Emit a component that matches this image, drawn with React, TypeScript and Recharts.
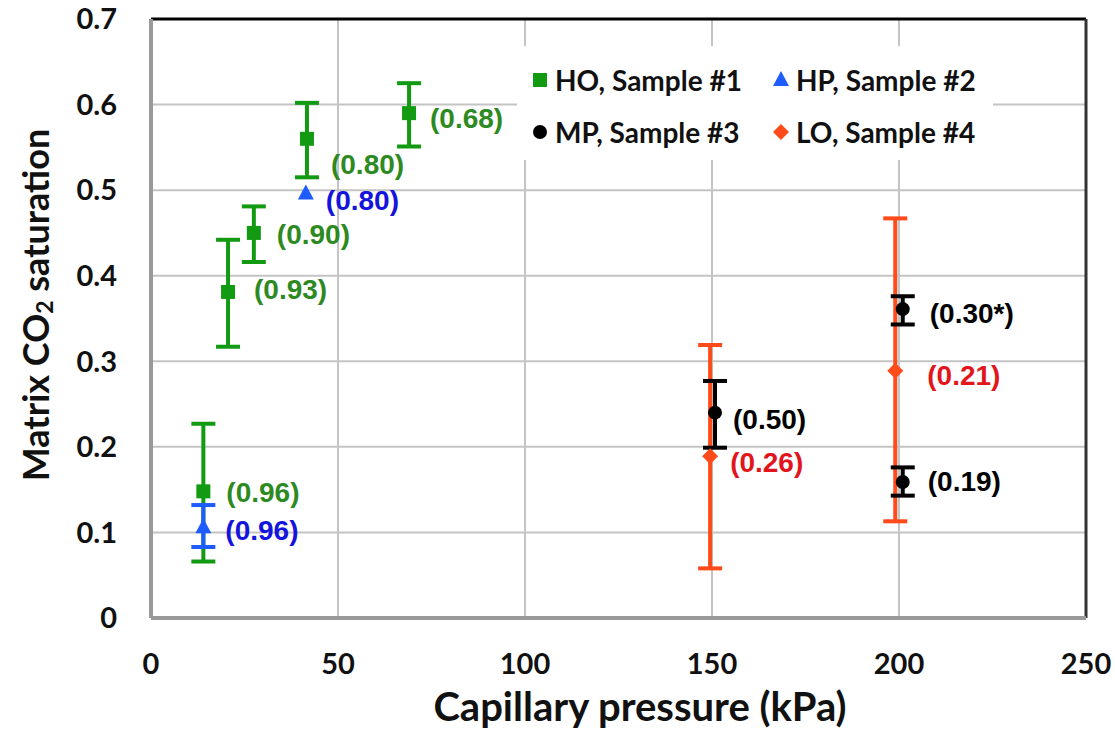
import React from "react"
import {
  ScatterChart,
  Scatter,
  XAxis,
  YAxis,
  CartesianGrid,
  ErrorBar,
  ReferenceLine,
  Legend,
  Label,
} from "recharts"

// axis ticks
const xTicks = [0, 50, 100, 150, 200, 250]
const yTicks = [0, 0.1, 0.2, 0.3, 0.4, 0.5, 0.6, 0.7]

// HO, Sample #1
const hoX = [14, 20.6, 27.5, 41.7, 69]
const hoY = [0.148, 0.381, 0.45, 0.56, 0.59]
const hoLow = [0.066, 0.317, 0.416, 0.515, 0.551]
const hoHigh = [0.227, 0.442, 0.481, 0.602, 0.625]
const hoLabels = ["(0.96)", "(0.93)", "(0.90)", "(0.80)", "(0.68)"]

// HP, Sample #2
const hpX = [14, 41.4]
const hpY = [0.106, 0.496]
const hpLow = [0.083, null]
const hpHigh = [0.132, null]
const hpLabels = ["(0.96)", "(0.80)"]

// MP, Sample #3
const mpX = [150.8, 201, 201]
const mpY = [0.24, 0.361, 0.159]
const mpLow = [0.199, 0.343, 0.143]
const mpHigh = [0.277, 0.376, 0.176]
const mpLabels = ["(0.50)", "(0.30*)", "(0.19)"]

// LO, Sample #4
const loX = [149.5, 199]
const loY = [0.189, 0.289]
const loLow = [0.058, 0.113]
const loHigh = [0.319, 0.467]
const loLabels = ["(0.26)", "(0.21)"]

// label offsets from the marker centre (dx, dy), presentation only
const hoOffsets = [[23, 1], [26, -2], [23, 2], [24, 26], [21, 5]]
const hpOffsets = [[22, 3], [20, 7]]
const mpOffsets = [[18, 7], [27, 4], [25, 0]]
const loOffsets = [[20, 6], [32, 5]]

const build = (xs: number[], ys: number[], lows: (number | null)[], highs: (number | null)[], labels: string[]) =>
  xs.map((x, i) => ({
    x,
    y: ys[i],
    err: lows[i] == null || highs[i] == null ? null : [ys[i] - (lows[i] as number), (highs[i] as number) - ys[i]],
    label: labels[i],
    i,
  }))

const hoData = build(hoX, hoY, hoLow, hoHigh, hoLabels)
const hpData = build(hpX, hpY, hpLow, hpHigh, hpLabels)
const mpData = build(mpX, mpY, mpLow, mpHigh, mpLabels)
const loData = build(loX, loY, loLow, loHigh, loLabels)

const COLORS = {
  ho: "#129a12",
  hoText: "#2d8a22",
  hp: "#1f5cff",
  hpText: "#1414dc",
  mp: "#000000",
  mpText: "#000000",
  lo: "#ff4a1a",
  loText: "#e3151c",
}

const TITLE_FONT = "Lato, 'Open Sans', sans-serif"
const LABEL_FONT = "'Liberation Sans', Arial, sans-serif"

const Marker = ({ kind, cx, cy, color }: any) => {
  if (kind === "square") return <rect x={cx - 7} y={cy - 7} width={14} height={14} fill={color} />
  if (kind === "triangle")
    return <polygon points={`${cx},${cy - 9} ${cx + 8},${cy + 6} ${cx - 8},${cy + 6}`} fill={color} />
  if (kind === "diamond")
    return <polygon points={`${cx},${cy - 8} ${cx + 8},${cy} ${cx},${cy + 8} ${cx - 8},${cy}`} fill={color} />
  return <circle cx={cx} cy={cy} r={7} fill={color} />
}

const makeShape = (kind: string, color: string, textColor: string, offsets: number[][]) => (props: any) => {
  const { cx, cy, payload } = props
  const [dx, dy] = offsets[payload.i] || [20, 0]
  return (
    <g>
      <Marker kind={kind} cx={cx} cy={cy} color={color} />
      <text
        x={cx + dx}
        y={cy + dy}
        dominantBaseline="central"
        fill={textColor}
        fontFamily={LABEL_FONT}
        fontWeight="bold"
        fontSize={28}
      >
        {payload.label}
      </text>
    </g>
  )
}

const legendItems = [
  { name: "HO, Sample #1", kind: "square", color: COLORS.ho },
  { name: "HP, Sample #2", kind: "triangle", color: COLORS.hp },
  { name: "MP, Sample #3", kind: "circle", color: COLORS.mp },
  { name: "LO, Sample #4", kind: "diamond", color: COLORS.lo },
]

const LegendBox = () => (
  <div
    style={{
      display: "grid",
      gridTemplateColumns: "241px 220px",
      rowGap: 20,
      paddingLeft: 13,
      paddingTop: 18,
      fontFamily: TITLE_FONT,
      fontWeight: "bold",
      fontSize: 28,
      color: "#111",
    }}
  >
    {legendItems.map((it) => (
      <div key={it.name} style={{ display: "flex", alignItems: "center", height: 32 }}>
        <svg width={20} height={20} style={{ marginRight: 5 }}>
          <Marker kind={it.kind} cx={10} cy={10} color={it.color} />
        </svg>
        <span>{it.name}</span>
      </div>
    ))}
  </div>
)

const YTitle = () => (
  <text
    transform="translate(35, 305) rotate(-90)"
    textAnchor="middle"
    dominantBaseline="central"
    fontFamily={TITLE_FONT}
    fontWeight="bold"
    fontSize={36}
    fill="#111"
  >
    Matrix CO
    <tspan fontSize={23} dy={9}>2</tspan>
    <tspan dy={-9}> saturation</tspan>
  </text>
)

const XTitle = () => (
  <text
    x={640}
    y={706}
    textAnchor="middle"
    dominantBaseline="central"
    fontFamily={TITLE_FONT}
    fontWeight="bold"
    fontSize={40}
    fill="#111"
  >
    Capillary pressure (kPa)
  </text>
)

export default function App() {
  const tickStyle = { fontFamily: TITLE_FONT, fontWeight: "bold", fontSize: 29, fill: "#111" }
  return (
    <div style={{ position: "absolute", left: 0, top: 0, background: "#fff" }}>
      <ScatterChart width={1115} height={732} margin={{ top: 19, right: 29, bottom: 0, left: 0 }}>
        <CartesianGrid stroke="#c4c4c4" strokeWidth={2} />
        <XAxis
          type="number"
          dataKey="x"
          domain={[0, 250]}
          ticks={xTicks}
          tickLine={false}
          tickSize={0}
          tickMargin={35}
          axisLine={{ stroke: "#999", strokeWidth: 4 }}
          tick={tickStyle}
          height={114}
        >
          <Label content={<XTitle />} />
        </XAxis>
        <YAxis
          type="number"
          dataKey="y"
          domain={[0, 0.7]}
          ticks={yTicks}
          tickFormatter={(v) => (v === 0 ? "0" : v.toFixed(1))}
          tickLine={false}
          tickSize={0}
          tickMargin={34}
          axisLine={{ stroke: "#999", strokeWidth: 4 }}
          tick={tickStyle}
          width={151}
        >
          <Label content={<YTitle />} />
        </YAxis>
        <ReferenceLine y={0.7} stroke="#000" strokeWidth={3} />
        <ReferenceLine x={250} stroke="#333" strokeWidth={3} />
        <Legend
          layout="horizontal"
          verticalAlign="middle"
          align="center"
          content={<LegendBox />}
          wrapperStyle={{ position: "absolute", left: 517, top: 46, width: 476, height: 114, background: "#fff" }}
        />
        <Scatter
          name="HO, Sample #1"
          data={hoData}
          fill={COLORS.ho}
          shape={makeShape("square", COLORS.ho, COLORS.hoText, hoOffsets)}
          isAnimationActive={false}
        >
          <ErrorBar dataKey="err" direction="y" width={12} stroke={COLORS.ho} strokeWidth={4} isAnimationActive={false} />
        </Scatter>
        <Scatter
          name="LO, Sample #4"
          data={loData}
          fill={COLORS.lo}
          shape={makeShape("diamond", COLORS.lo, COLORS.loText, loOffsets)}
          isAnimationActive={false}
        >
          <ErrorBar dataKey="err" direction="y" width={12} stroke={COLORS.lo} strokeWidth={4} isAnimationActive={false} />
        </Scatter>
        <Scatter
          name="HP, Sample #2"
          data={hpData}
          fill={COLORS.hp}
          shape={makeShape("triangle", COLORS.hp, COLORS.hpText, hpOffsets)}
          isAnimationActive={false}
        >
          <ErrorBar dataKey="err" direction="y" width={12} stroke={COLORS.hp} strokeWidth={4} isAnimationActive={false} />
        </Scatter>
        <Scatter
          name="MP, Sample #3"
          data={mpData}
          fill={COLORS.mp}
          shape={makeShape("circle", COLORS.mp, COLORS.mpText, mpOffsets)}
          isAnimationActive={false}
        >
          <ErrorBar dataKey="err" direction="y" width={12} stroke={COLORS.mp} strokeWidth={4} isAnimationActive={false} />
        </Scatter>
      </ScatterChart>
    </div>
  )
}
